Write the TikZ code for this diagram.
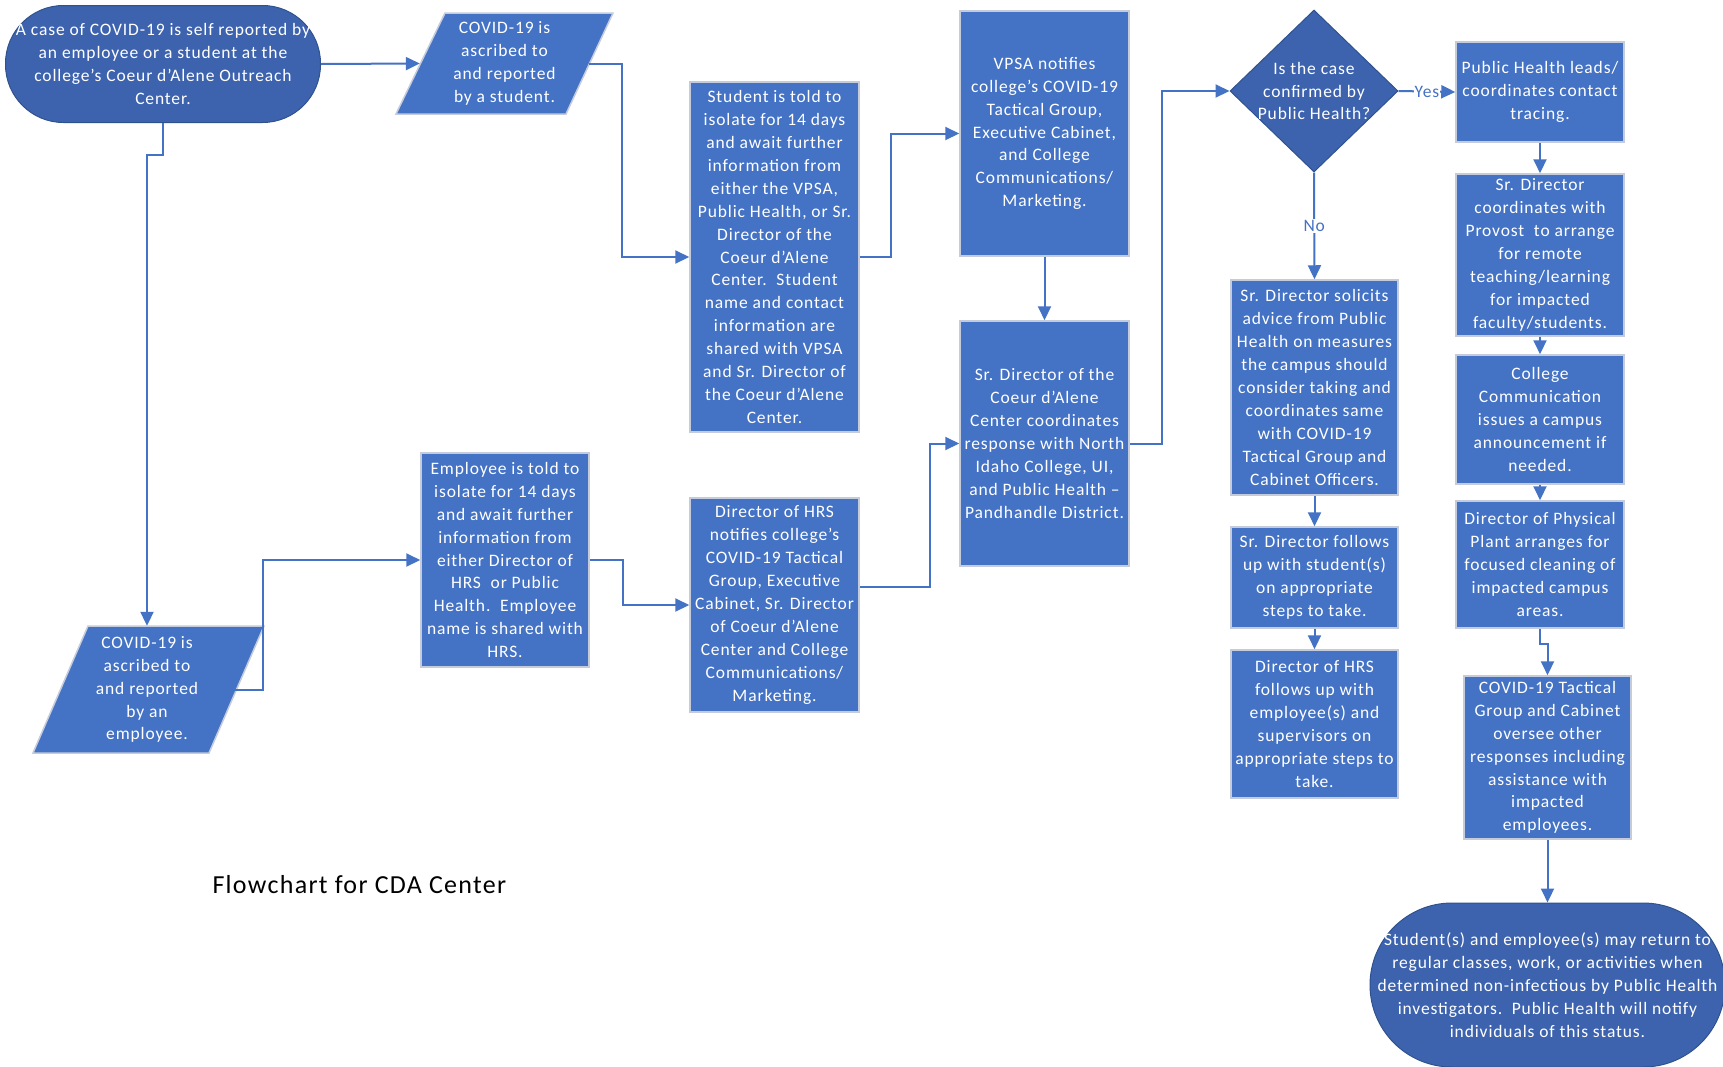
\documentclass[tikz,border=0pt]{standalone}
\usepackage{fontspec}
\setmainfont{Carlito}[LetterSpace=5]
\usetikzlibrary{shapes.geometric,arrows.meta}
\definecolor{boxblue}{HTML}{4472C4}
\definecolor{darkblue}{HTML}{3D63AE}
\definecolor{edgeblue}{HTML}{2F528F}
\definecolor{boxedge}{HTML}{C4CCDC}
\definecolor{lineblue}{HTML}{4472C4}
\begin{document}
\begin{tikzpicture}[x=1pt,y=-1pt,
  txt/.style={text=white, align=center, font=\fontsize{17.5}{22.9}\selectfont},
  procbox/.style={txt, rectangle, fill=boxblue, draw=boxedge, line width=1.5pt, inner sep=0pt},
  term/.style={txt, rectangle, rounded corners=#1, fill=darkblue, draw=edgeblue, line width=1pt, inner sep=0pt},
  parfill/.style={fill=boxblue, draw=boxedge, line width=1.5pt},
  conn/.style={draw=lineblue, line width=2pt, -{Triangle[length=14pt,width=13pt]}},
  lbl/.style={fill=white, inner sep=1pt, text=lineblue, font=\fontsize{17.5}{20}\selectfont}]
\useasboundingbox (0,0) rectangle (1723,1066);
\fill[white] (0,0) rectangle (1723,1066);

% terminators
\node[term=58pt, minimum width=315pt, minimum height=117pt] (start) at (163,64)
  {A case of COVID-19 is self reported by\\an employee or a student at the\\college’s Coeur d’Alene Outreach\\Center.};
\node[term=82pt, minimum width=355pt, minimum height=164pt] (endn) at (1547.5,985)
  {Student(s) and employee(s) may return to\\regular classes, work, or activities when\\determined non-infectious by Public Health\\investigators.\ \ Public Health will notify\\individuals of this status.};

% parallelograms
\path[parfill] (445,13) -- (613,13) -- (566,114) -- (396,114) -- cycle;
\node[txt, minimum width=169pt, minimum height=101pt, inner sep=0pt] (par1) at (504.5,63.5)
  {COVID-19 is\\ascribed to\\and reported\\by a student.};
\path[parfill] (88,626) -- (264,626) -- (209,753) -- (33,753) -- cycle;
\node[txt, minimum width=176pt, minimum height=127pt, inner sep=0pt] (par2) at (147,689.5)
  {COVID-19 is\\ascribed to\\and reported\\by an\\employee.};

% process boxes
\node[procbox, minimum width=169pt, minimum height=350pt] (stud) at (774.5,257)
  {Student is told to\\isolate for 14 days\\and await further\\information from\\either the VPSA,\\Public Health, or Sr.\\Director of the\\Coeur d’Alene\\Center.\ \ Student\\name and contact\\information are\\shared with VPSA\\and Sr. Director of\\the Coeur d’Alene\\Center.};
\node[procbox, minimum width=169pt, minimum height=245pt] (vpsa) at (1044.5,133.5)
  {VPSA notifies\\college’s COVID-19\\Tactical Group,\\Executive Cabinet,\\and College\\Communications/\\Marketing.};
\node[procbox, minimum width=169pt, minimum height=245pt] (srdir) at (1044.5,443.5)
  {Sr. Director of the\\Coeur d’Alene\\Center coordinates\\response with North\\Idaho College, UI,\\and Public Health –\\Pandhandle District.};
\node[procbox, minimum width=168pt, minimum height=214pt] (emp) at (505,560)
  {Employee is told to\\isolate for 14 days\\and await further\\information from\\either Director of\\HRS\ \ or Public\\Health.\ \ Employee\\name is shared with\\HRS.};
\node[procbox, minimum width=169pt, minimum height=214pt] (hrsn) at (774.5,605)
  {Director of HRS\\notifies college’s\\COVID-19 Tactical\\Group, Executive\\Cabinet, Sr. Director\\of Coeur d’Alene\\Center and College\\Communications/\\Marketing.};

% decision
\node[diamond, fill=darkblue, draw=edgeblue, line width=1pt, minimum width=168pt, minimum height=162pt, inner sep=0pt] (dia) at (1314,91) {};
\node[txt] (diatext) at (dia) {Is the case\\confirmed by\\Public Health?};

% right columns
\node[procbox, minimum width=167pt, minimum height=215pt] (sol) at (1314.5,387.5)
  {Sr. Director solicits\\advice from Public\\Health on measures\\the campus should\\consider taking and\\coordinates same\\with COVID-19\\Tactical Group and\\Cabinet Officers.};
\node[procbox, minimum width=167pt, minimum height=101pt] (fol) at (1314.5,577.5)
  {Sr. Director follows\\up with student(s)\\on appropriate\\steps to take.};
\node[procbox, minimum width=167pt, minimum height=148pt] (hrsf) at (1314.5,724)
  {Director of HRS\\follows up with\\employee(s) and\\supervisors on\\appropriate steps to\\take.};

\node[procbox, minimum width=168pt, minimum height=100pt] (ph) at (1540,92)
  {Public Health leads/\\coordinates contact\\tracing.};
\node[procbox, minimum width=168pt, minimum height=162pt] (prov) at (1540,255)
  {Sr. Director\\coordinates with\\Provost\ \ to arrange\\for remote\\teaching/learning\\for impacted\\faculty/students.};
\node[procbox, minimum width=168pt, minimum height=129pt] (comm) at (1540,419.5)
  {College\\Communication\\issues a campus\\announcement if\\needed.};
\node[procbox, minimum width=168pt, minimum height=127pt] (pp) at (1540,564.5)
  {Director of Physical\\Plant arranges for\\focused cleaning of\\impacted campus\\areas.};
\node[procbox, minimum width=167pt, minimum height=163pt] (tact) at (1547.5,757.5)
  {COVID-19 Tactical\\Group and Cabinet\\oversee other\\responses including\\assistance with\\impacted\\employees.};

% caption
\node[anchor=west, font=\fontsize{26}{30}\selectfont] (cap) at (209,885) {Flowchart for CDA Center};

% connectors
\draw[conn] (start.east) -- (par1.west);
\draw[conn] (par1.east) -- ++(33,0) |- (stud.west);
\draw[conn] (stud.east) -- ++(31,0) |- (vpsa.west);
\draw[conn] (vpsa.south) -- (srdir.north);
\draw[conn] (srdir.east) -- ++(32,0) |- (dia.west);
\draw[conn] (dia.east) -- node[lbl] {Yes} (ph.west);
\draw[conn] (dia.south) -- node[lbl] {No} (sol.north);
\draw[conn] (sol.south) -- (fol.north);
\draw[conn] (fol.south) -- (hrsf.north);
\draw[conn] (ph.south) -- (prov.north);
\draw[conn] (prov.south) -- (comm.north);
\draw[conn] (comm.south) -- (pp.north);
\draw[conn] (pp.south) -- ++(0,15) -| (tact.north);
\draw[conn] (tact.south) -- (endn.north);
\draw[conn] (start.south) -- ++(0,32) -| (par2.north);
\draw[conn] (par2.east) -- ++(28,0) |- (emp.west);
\draw[conn] (emp.east) -- ++(33,0) |- (hrsn.west);
\draw[conn] ([yshift=18pt]hrsn.east) -- ++(70,0) |- (srdir.west);
\end{tikzpicture}
\end{document}
